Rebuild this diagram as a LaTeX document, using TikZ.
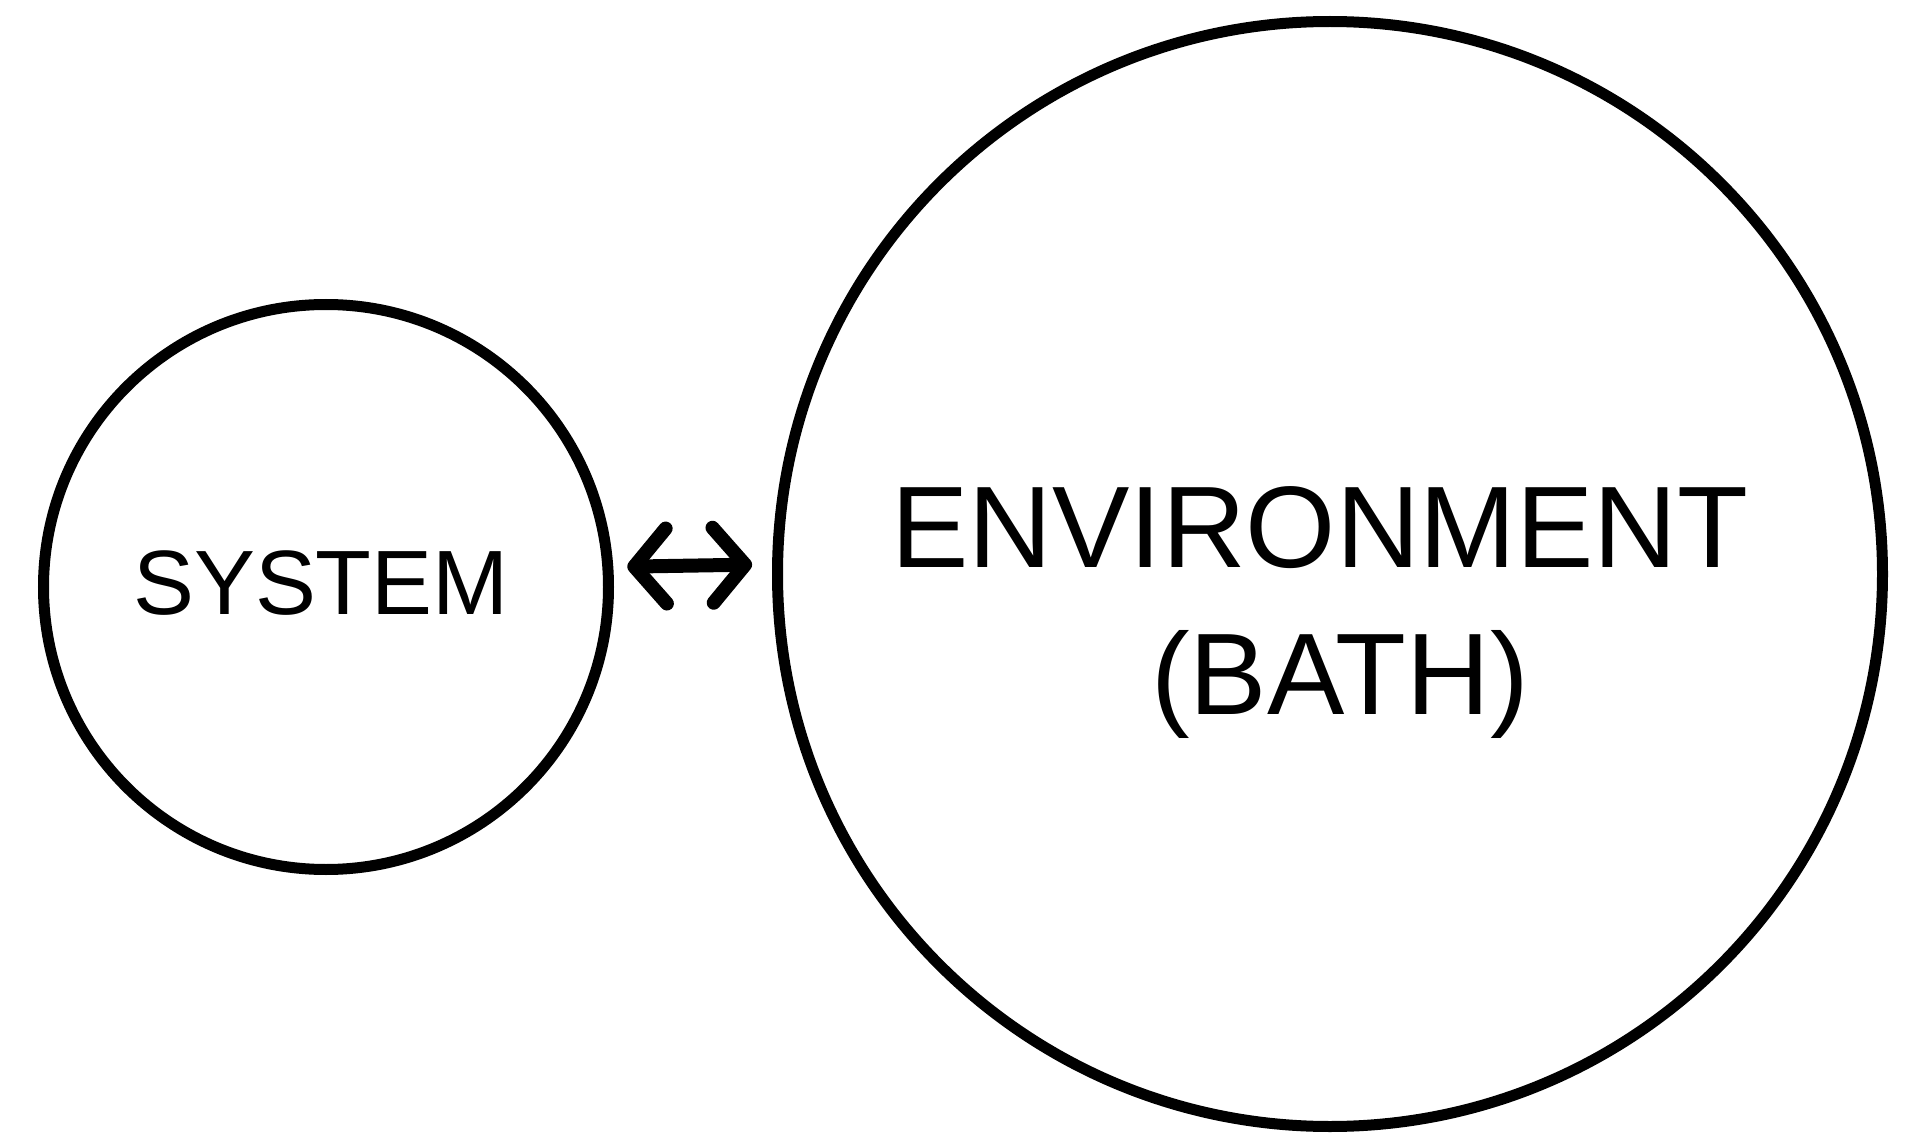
\documentclass[tikz,border=0pt]{standalone}
\usepackage{fontspec}
\setmainfont{Liberation Sans}
\usepackage{tikz}
\usetikzlibrary{positioning,arrows.meta}
\tikzset{
  part-circle/.style={draw=black, line width=0.11cm, circle, inner sep=0pt},
  part-label/.style={font=\fontsize{26}{30}\selectfont, anchor=base},
  env-label/.style={font=\fontsize{33}{40}\selectfont, anchor=base},
  exchange-arrow/.style={{Straight Barb[length=0.32cm, width=0.75cm, round]}-{Straight Barb[length=0.32cm, width=0.75cm, round]},
    line width=0.14cm, line cap=round, draw=black}
}
\begin{document}
\begin{tikzpicture}
\useasboundingbox (0,0) rectangle (19.27,11.42);
% System and its bath
\node[part-circle, minimum size=5.65cm] (sys) at (3.26, 5.55) {};
\node[part-circle, minimum size=11.05cm] (env) at (13.30, 5.68) {};

% Labels
\node[part-label] (systext) at (3.21, 5.28) {SYSTEM};
\node[env-label] (envtext) at (13.20, 5.75) {ENVIRONMENT};
\node[env-label] (bathtext) at (13.40, 4.28) {(BATH)};

% Exchange between them
\draw[exchange-arrow, shorten <=0.14cm, shorten >=0.2cm] (sys.4) -- (env.179);
\end{tikzpicture}
\end{document}
